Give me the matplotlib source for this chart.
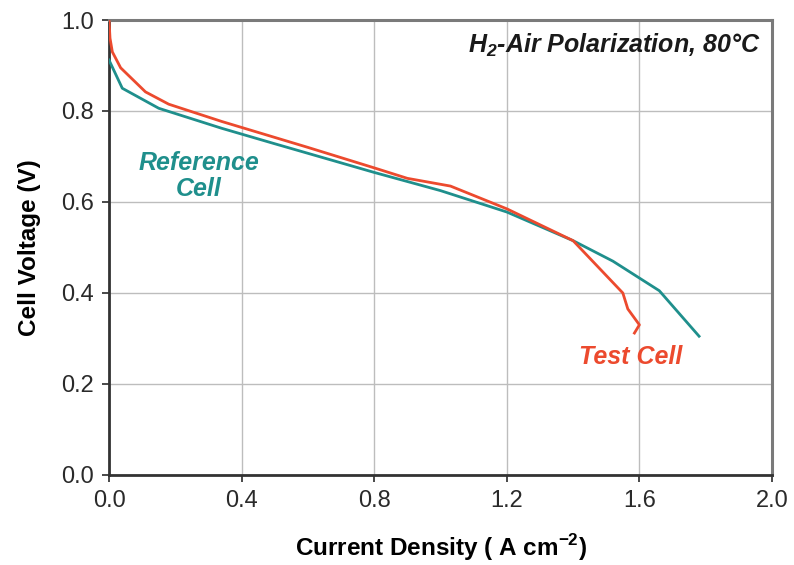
import matplotlib
matplotlib.use("Agg")
import matplotlib.pyplot as plt

plt.rcParams['font.family'] = ['Liberation Sans', 'DejaVu Sans']

# polarization curves, current density (A cm^-2) vs cell voltage (V)
ref_j = [0.0, 0.04, 0.15, 0.34, 0.5, 0.8, 1.0, 1.2, 1.4, 1.52, 1.66, 1.78]
ref_v = [0.912, 0.85, 0.806, 0.762, 0.728, 0.665, 0.625, 0.578, 0.515, 0.47, 0.405, 0.305]

test_j = [0.0, 0.003, 0.01, 0.035, 0.11, 0.18, 0.34, 0.6, 0.8, 0.9, 1.03, 1.2,
          1.4, 1.55, 1.565, 1.60, 1.585]
test_v = [1.0, 0.96, 0.93, 0.895, 0.842, 0.815, 0.777, 0.72, 0.675, 0.652, 0.635, 0.585,
          0.515, 0.40, 0.365, 0.33, 0.312]

x_ticks = [0.0, 0.4, 0.8, 1.2, 1.6, 2.0]
y_ticks = [0.0, 0.2, 0.4, 0.6, 0.8, 1.0]

teal = '#1f8f8c'
red = '#ec4a2e'

fig = plt.figure(figsize=(7.94, 5.65), dpi=100)
ax = fig.add_axes([0.1373, 0.1593, 0.835, 0.8053])

ax.plot(ref_j, ref_v, color=teal, lw=2.0, zorder=3)
ax.plot(test_j, test_v, color=red, lw=2.0, zorder=4)

ax.set_xlim(0, 2.0)
ax.set_ylim(0, 1.0)
ax.set_xticks(x_ticks)
ax.set_yticks(y_ticks)
ax.set_xticklabels([f'{t:.1f}' for t in x_ticks])
ax.set_yticklabels([f'{t:.1f}' for t in y_ticks])
ax.tick_params(direction='out', length=5, width=1.2, labelsize=17,
               colors='#2a2a2a', pad=6)
ax.grid(True, color='#bdbdbd', lw=1.0)
ax.set_axisbelow(True)

for side in ('left', 'bottom'):
    ax.spines[side].set_color('#333333')
    ax.spines[side].set_linewidth(2.0)
for side in ('top', 'right'):
    ax.spines[side].set_color('#7a7a7a')
    ax.spines[side].set_linewidth(2.2)

ax.set_xlabel('Current Density ( A cm$^{\\mathregular{-2}}$)', fontsize=17.5,
              fontweight='bold', labelpad=14)
ax.set_ylabel('Cell Voltage (V)', fontsize=17.5, fontweight='bold', labelpad=14)

ax.text(0.982, 0.945, 'H$_{\\mathregular{2}}$-Air Polarization, 80°C',
        transform=ax.transAxes, ha='right', va='center', fontsize=18,
        fontweight='bold', fontstyle='italic', color='#1a1a1a')
ax.text(0.272, 0.657, 'Reference\nCell', color=teal, fontsize=18,
        fontweight='bold', fontstyle='italic', ha='center', va='center',
        linespacing=1.1)
ax.text(1.575, 0.26, 'Test Cell', color=red, fontsize=18,
        fontweight='bold', fontstyle='italic', ha='center', va='center')

fig.savefig('out.png', dpi=100)
